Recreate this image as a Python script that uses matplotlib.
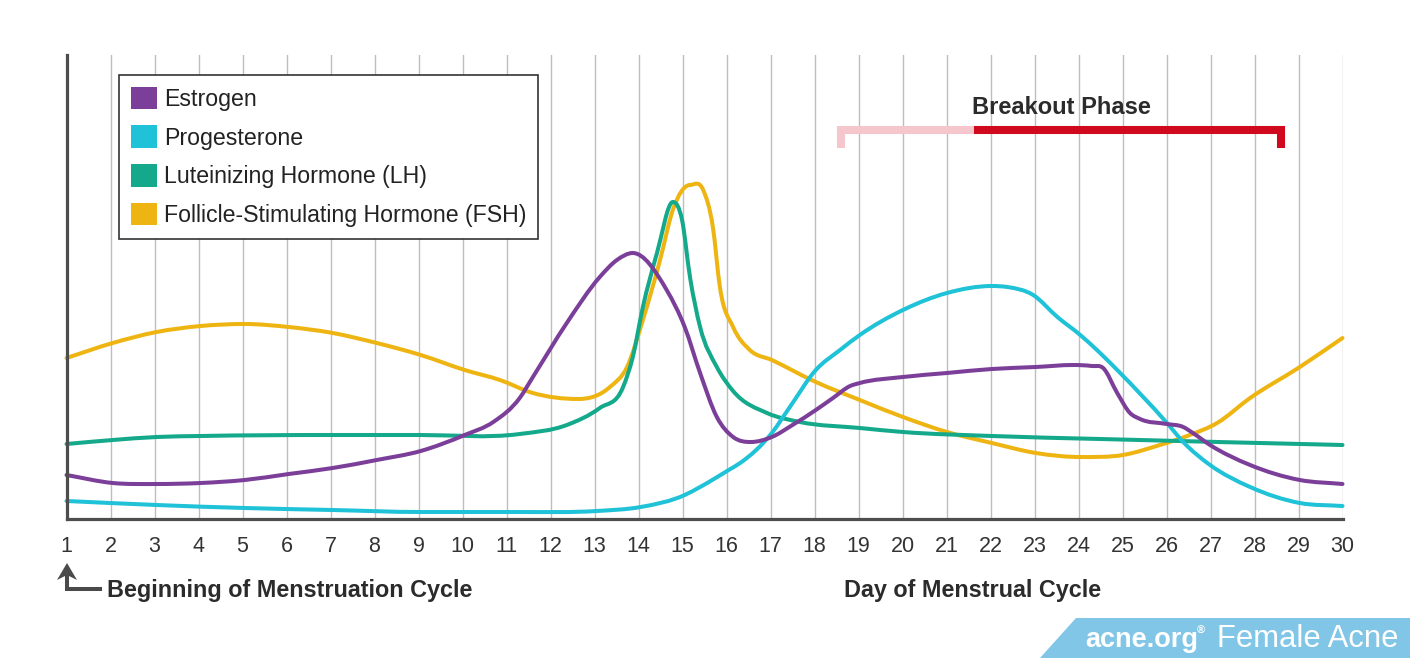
import numpy as np
import matplotlib
matplotlib.use("Agg")
import matplotlib.pyplot as plt
from matplotlib.path import Path
from matplotlib.patches import PathPatch, Patch, Polygon
from matplotlib.lines import Line2D

plt.rcParams['font.family'] = ['Liberation Sans', 'DejaVu Sans']

# --- data (day of cycle, relative hormone level) ---
day_ticks = list(range(1, 31))

est_day = [1.0, 2.05, 3.05, 4.05, 5.05, 6.05, 7.05, 8.05, 9.05, 10.05, 10.7, 11.3, 11.6,
           12.37, 13.12, 13.51, 13.87, 14.64, 15.05, 15.4, 15.78, 16.15, 16.55, 17.03,
           17.5, 18.03, 18.42, 18.81, 19.03, 20.01, 21.01, 22.03, 23.03, 23.88, 24.3,
           24.56, 24.88, 25.17, 25.4, 26.01, 26.38, 26.6, 26.99, 27.9, 29.03, 30.0]
est_level = [44, 36, 35, 36, 39, 45, 51, 59, 68, 84, 97, 121, 142,
             196, 242, 259, 266, 229, 192, 146, 102, 82, 77, 82,
             94, 109, 121, 133, 136, 142, 146, 150, 152, 154, 153,
             151, 126, 106, 100, 95, 92, 86, 74, 54, 39, 35]

prog_day = [1.0, 3.05, 5.05, 7.05, 9.05, 11.3, 13.05, 14.05, 15.05, 15.4, 16.05, 16.31,
            17.03, 17.44, 18.03, 18.58, 19.03, 20.01, 21.01, 22.03, 22.38, 22.97, 23.52,
            24.04, 24.49, 24.88, 26.01, 26.38, 26.99, 27.9, 29.03, 30.0]
prog_level = [18, 14, 11, 9, 7, 7, 8, 12, 24, 32, 49, 56,
              86, 112, 149, 169, 184, 209, 226, 233, 232, 224, 202,
              184, 166, 149, 96, 77, 54, 32, 16, 13]

lh_day = [1.0, 2.05, 3.05, 4.05, 7.05, 9.05, 11.3, 12.37, 13.12, 13.65, 13.87, 14.1,
          14.42, 14.78, 14.99, 15.17, 15.4, 15.78, 16.15, 16.92, 17.67, 19.03, 20.01,
          22.03, 24.49, 30.0]
lh_level = [75, 79, 82, 83, 84, 84, 85, 94, 111, 132, 162, 212,
            266, 317, 299, 242, 192, 152, 128, 106, 97, 91, 87,
            83, 80, 74]

fsh_day = [1.0, 2.05, 3.05, 4.05, 5.05, 6.05, 7.05, 8.05, 9.05, 10.05, 10.85, 11.6,
           12.63, 13.35, 13.74, 14.1, 14.49, 14.78, 15.17, 15.47, 15.69, 15.85, 16.15,
           16.53, 17.03, 18.03, 19.03, 20.01, 21.01, 22.03, 23.03, 24.04, 25.01, 25.85,
           26.53, 27.15, 27.9, 29.03, 30.0]
fsh_level = [161, 176, 187, 193, 195, 192, 186, 176, 164, 149, 139, 126,
             120, 132, 152, 199, 259, 309, 334, 329, 292, 232, 192,
             169, 159, 137, 119, 102, 87, 76, 66, 62, 64, 74,
             84, 96, 121, 152, 181]

series = [
    ("Estrogen", est_day, est_level, "#7B3F99"),
    ("Progesterone", prog_day, prog_level, "#1FC2D7"),
    ("Luteinizing Hormone (LH)", lh_day, lh_level, "#13A98A"),
    ("Follicle-Stimulating Hormone (FSH)", fsh_day, fsh_level, "#EEB512"),
]

breakout_early = (18.6, 21.63)
breakout_main = (21.63, 28.6)


def smooth_path(xs, ys):
    # cubic hermite through the read points, written as bezier segments
    xs = np.asarray(xs, float)
    ys = np.asarray(ys, float)
    h = np.diff(xs)
    d = np.diff(ys) / h
    m = np.empty(len(xs))
    m[0], m[-1] = d[0], d[-1]
    for i in range(1, len(xs) - 1):
        if d[i - 1] * d[i] <= 0:
            m[i] = 0.0
        else:
            m[i] = (h[i] * d[i - 1] + h[i - 1] * d[i]) / (h[i - 1] + h[i])
    verts = [(xs[0], ys[0])]
    codes = [Path.MOVETO]
    for i in range(len(xs) - 1):
        verts += [(xs[i] + h[i] / 3, ys[i] + m[i] * h[i] / 3),
                  (xs[i + 1] - h[i] / 3, ys[i + 1] - m[i + 1] * h[i] / 3),
                  (xs[i + 1], ys[i + 1])]
        codes += [Path.CURVE4] * 3
    return Path(verts, codes)


W, H = 1410, 658
fig = plt.figure(figsize=(W / 100, H / 100), dpi=100)
ax = fig.add_axes([66.5 / W, (H - 519) / H, 1276 / W, 464 / H])


def px(x, y):
    return (x / W, 1 - y / H)


ax.set_xlim(1, 30)
ax.set_ylim(0, 464)
ax.set_xticks(day_ticks)
ax.set_xticklabels([str(d) for d in day_ticks])
ax.set_yticks([])
ax.tick_params(axis='x', length=0, pad=12, labelsize=15.5, labelcolor='#333333')
for s in ['top', 'right']:
    ax.spines[s].set_visible(False)
for s in ['left', 'bottom']:
    ax.spines[s].set_color('#4D4D4D')
    ax.spines[s].set_linewidth(2.3)
    ax.spines[s].set_zorder(6)
for d in day_ticks[1:]:
    ax.axvline(d, color='#BDBDBD', lw=1.0, zorder=0)

for name, xs, ys, color in reversed(series):
    ax.add_patch(PathPatch(smooth_path(xs, ys), facecolor='none', edgecolor=color,
                           lw=2.9, capstyle='round', joinstyle='round',
                           clip_on=False, zorder=3))

handles = [Patch(facecolor=c, edgecolor='none', label=n) for n, _, _, c in series]
leg = ax.legend(handles=handles, loc='upper left', bbox_to_anchor=px(119, 75),
                bbox_transform=fig.transFigure, borderaxespad=0, fontsize=16.7,
                handlelength=1.12, handleheight=1.12, handletextpad=0.34,
                labelspacing=0.63, borderpad=0.5, fancybox=False, framealpha=1,
                edgecolor='#333333', labelcolor='#222222')
leg.get_frame().set_linewidth(1.2)
leg.set_zorder(5)

# breakout bracket
y_bar, y_drop = 389, 371
ax.plot([breakout_early[0], breakout_early[0], breakout_early[1]], [y_drop, y_bar, y_bar],
        color='#F5C7CC', lw=5.8, solid_joinstyle='miter', solid_capstyle='butt',
        zorder=4, clip_on=False)
ax.plot([breakout_main[0], breakout_main[1], breakout_main[1]], [y_bar, y_bar, y_drop],
        color='#D0091F', lw=5.8, solid_joinstyle='miter', solid_capstyle='butt',
        zorder=4, clip_on=False)
fig.text(*px(1061, 108), "Breakout Phase", ha='center', va='center', fontsize=17,
         fontweight='bold', color='#2B2B2B')

# axis captions
fig.text(*px(107, 590), "Beginning of Menstruation Cycle", ha='left', va='center',
         fontsize=16.8, fontweight='bold', color='#2B2B2B')
fig.text(*px(844, 590), "Day of Menstrual Cycle", ha='left', va='center',
         fontsize=16.8, fontweight='bold', color='#2B2B2B')

# small L-shaped arrow at day 1
fig.add_artist(Line2D([px(102, 589)[0], px(67, 589)[0], px(67, 574)[0]],
                      [px(102, 589)[1], px(67, 589)[1], px(67, 574)[1]],
                      transform=fig.transFigure, color='#4A4A4A', lw=2.9,
                      solid_joinstyle='miter', solid_capstyle='butt'))
fig.add_artist(Polygon([px(67, 563), px(57, 580), px(67, 575), px(77, 580)],
                       closed=True, transform=fig.transFigure, color='#4A4A4A', lw=0))

# footer band
fig.add_artist(Polygon([px(1040, 658), px(1076, 618), px(1410, 618), px(1410, 658)],
                       closed=True, transform=fig.transFigure, color='#82C6E7', lw=0))
fig.text(*px(1085, 647), "acne.org", ha='left', va='baseline', fontsize=19.5,
         fontweight='bold', color='white')
fig.text(*px(1197, 634), "®", ha='left', va='baseline', fontsize=8,
         fontweight='bold', color='white')
fig.text(*px(1217, 647), "Female Acne", ha='left', va='baseline', fontsize=22.3,
         color='white')

fig.savefig("out.png", dpi=100)
